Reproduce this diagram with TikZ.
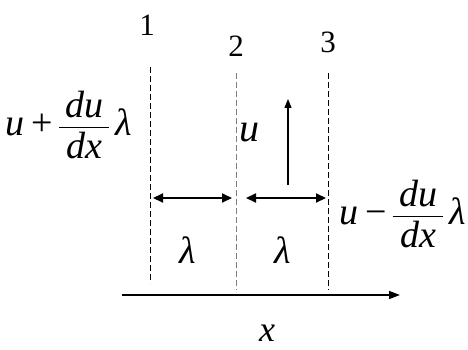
\documentclass[tikz,border=0pt]{standalone}
\usepackage{fontspec}
\setmainfont{Liberation Serif}
\usetikzlibrary{arrows.meta}
\newcommand\iv[1]{\mbox{\itshape #1}}
\newcommand\myfrac[2]{$\vcenter{\hbox{\begin{tabular}{@{\,}c@{\,}}#1\\[-4pt]\hline\rule{0pt}{30pt}#2\end{tabular}}}$}
\begin{document}
\begin{tikzpicture}[x=1pt,y=-1pt,
  dashline/.style={line width=0.9pt, dash pattern=on 6pt off 3pt},
  num/.style={inner sep=0pt, font=\fontsize{31}{36}\selectfont},
  lab/.style={inner sep=0pt, font=\fontsize{40}{46}\selectfont\itshape},
  expr/.style={inner sep=0pt, font=\fontsize{38}{44}\selectfont},
  dbl/.style={line width=2pt, {Triangle[length=10pt,width=9pt]}-{Triangle[length=10pt,width=9pt]}},
  uparr/.style={line width=1.3pt, -{Triangle[length=9pt,width=7pt]}},
  axis/.style={line width=1.5pt, -{Triangle[length=11pt,width=8pt]}}]
\useasboundingbox (0,0) rectangle (468,350);
\coordinate (t1) at (150,67); \coordinate (b1) at (150,283);
\coordinate (t2) at (236,73); \coordinate (b2) at (236,290);
\coordinate (t3) at (328,73); \coordinate (b3) at (328,290);
\draw[dashline] (t1) -- (b1);
\draw[dashline, gray] (t2) -- (b2);
\draw[dashline] (t3) -- (b3);
\node[num] (n1) at (147,25) {1};
\node[num] (n2) at (236,46) {2};
\node[num] (n3) at (328,42) {3};
\node[expr] (left) at (69,129) {\iv{u}\,+\,\myfrac{\iv{du}}{\iv{dx}}\,\iv{λ}};
\node[expr] (right) at (403,218) {\iv{u}\,−\,\myfrac{\iv{du}}{\iv{dx}}\,\iv{λ}};
\node[lab] (u) at (249,133) {u};
\coordinate (ub) at (288,185); \coordinate (ut) at (288,99);
\draw[uparr] (ub) -- (ut);
\coordinate (a1l) at (153,198); \coordinate (a1r) at (232,198);
\coordinate (a2l) at (246,198); \coordinate (a2r) at (326,198);
\draw[dbl] (a1l) -- (a1r);
\draw[dbl] (a2l) -- (a2r);
\node[lab, font=\fontsize{38}{44}\selectfont\itshape] (l1) at (188,250) {λ};
\node[lab, font=\fontsize{38}{44}\selectfont\itshape] (l2) at (283,250) {λ};
\coordinate (xl) at (122,295); \coordinate (xr) at (400,295);
\draw[axis] (xl) -- (xr);
\node[lab, font=\fontsize{36}{42}\selectfont\itshape] (xlab) at (267,333) {x};
\end{tikzpicture}
\end{document}
